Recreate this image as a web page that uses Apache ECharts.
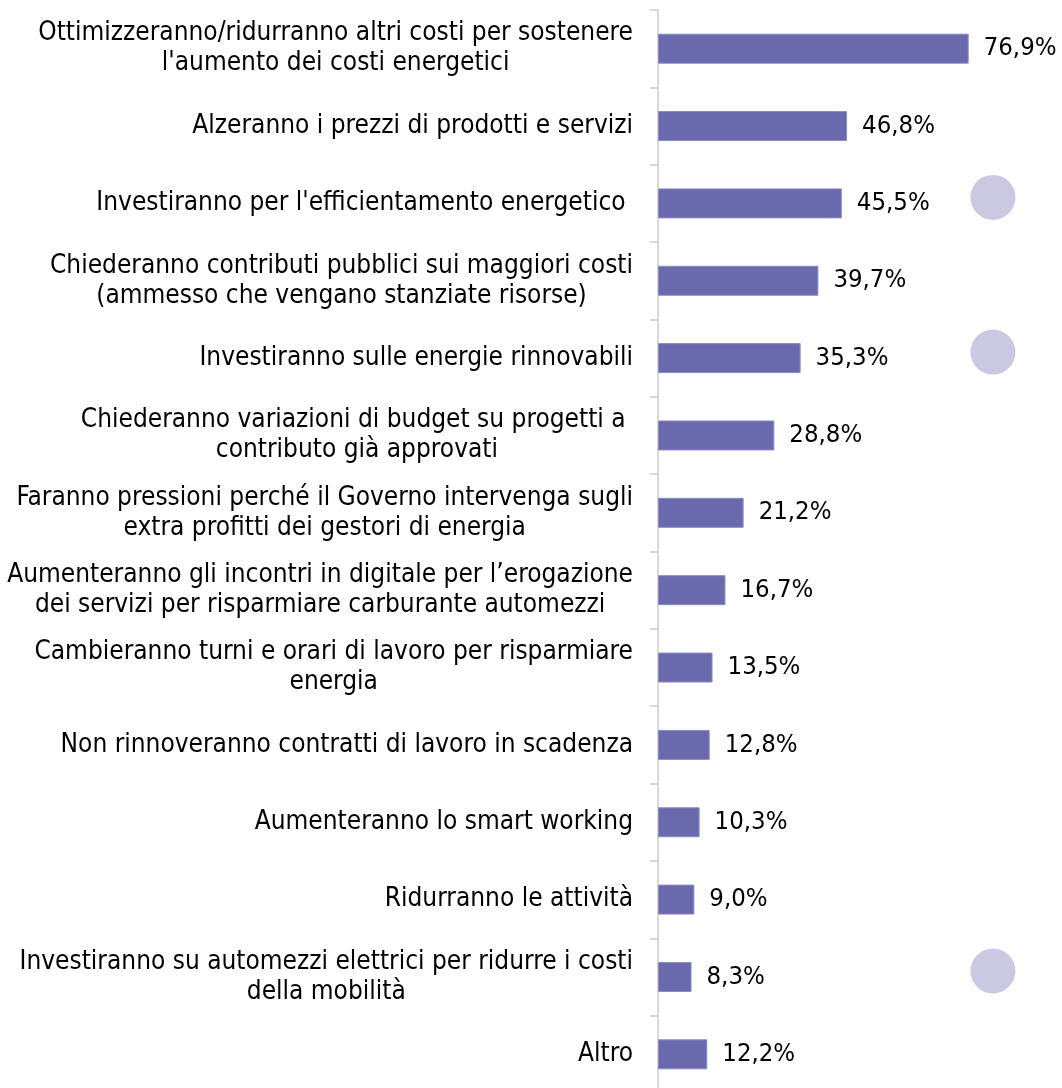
<!DOCTYPE html>
<html>
<head>
<meta charset="utf-8">
<script src="https://cdn.jsdelivr.net/npm/echarts@6/dist/echarts.min.js"></script>
<style>
html,body{margin:0;padding:0;background:#fff;}
#main{width:1062px;height:1088px;}
</style>
</head>
<body>
<div id="main"></div>
<script>
// categorie (dall'alto verso il basso)
var categorie = [
  "Ottimizzeranno/ridurranno altri costi per sostenere\nl'aumento dei costi energetici",
  "Alzeranno i prezzi di prodotti e servizi",
  "Investiranno per l'efficientamento energetico ",
  "Chiederanno contributi pubblici sui maggiori costi\n(ammesso che vengano stanziate risorse)",
  "Investiranno sulle energie rinnovabili",
  "Chiederanno variazioni di budget su progetti a \ncontributo già approvati",
  "Faranno pressioni perché il Governo intervenga sugli\nextra profitti dei gestori di energia",
  "Aumenteranno gli incontri in digitale per l\u2019erogazione\ndei servizi per risparmiare carburante automezzi",
  "Cambieranno turni e orari di lavoro per risparmiare\nenergia",
  "Non rinnoveranno contratti di lavoro in scadenza",
  "Aumenteranno lo smart working",
  "Ridurranno le attività",
  "Investiranno su automezzi elettrici per ridurre i costi\ndella mobilità",
  "Altro"
];
var percentuali = [76.9, 46.8, 45.5, 39.7, 35.3, 28.8, 21.2, 16.7, 13.5, 12.8, 10.3, 9.0, 8.3, 12.2];
// righe evidenziate col pallino
var evidenziate = [0, 0, 1, 0, 1, 0, 0, 0, 0, 0, 0, 0, 1, 0];
var posPallino = 82.9; // posizione sull'asse x (valore)

var font = "DejaVu Sans Condensed, DejaVu Sans, sans-serif";

var pallini = [];
evidenziate.forEach(function (f, i) {
  if (f) pallini.push([posPallino, i]);
});

var mycharts = echarts.init(document.getElementById('main'));
var options = {
  animation: false,
  grid: {
    left: 658,
    top: 10,
    width: 404,
    height: 1083,
    outerBoundsMode: 'none',
    containLabel: false
  },
  xAxis: {
    type: 'value',
    min: 0,
    max: 100,
    show: false
  },
  yAxis: {
    type: 'category',
    inverse: true,
    data: categorie,
    axisLine: { lineStyle: { color: '#d9d9d9', width: 2 } },
    axisTick: { show: true, length: 8, lineStyle: { color: '#d9d9d9', width: 2 } },
    axisLabel: {
      margin: 25,
      align: 'right',
      formatter: function (v) {
        // ogni riga centrata dentro il blocco
        return v.split('\n').map(function (r) { return '{c|' + r + '}'; }).join('\n');
      },
      rich: {
        c: {
          align: 'center',
          color: '#000',
          fontFamily: font,
          fontSize: 26,
          lineHeight: 30
        }
      }
    },
    splitLine: { show: false }
  },
  series: [
    {
      name: 'Percentuale',
      type: 'bar',
      data: percentuali,
      barWidth: 30,
      itemStyle: { color: '#6b69ad', borderColor: '#8e8cc4', borderWidth: 1 },
      label: {
        show: true,
        position: 'right',
        distance: 15,
        color: '#000',
        fontFamily: font,
        fontSize: 25.5,
        formatter: function (p) {
          return p.value.toFixed(1).replace('.', ',') + '%';
        }
      }
    },
    {
      name: 'pallini',
      type: 'scatter',
      data: pallini,
      symbol: 'circle',
      symbolSize: 45,
      symbolOffset: [0, -6],
      itemStyle: { color: '#cbc9e1', opacity: 1 },
      silent: true
    }
  ]
};
mycharts.setOption(options, true);
window.addEventListener('resize', function () { mycharts.resize(); });
</script>
</body>
</html>
